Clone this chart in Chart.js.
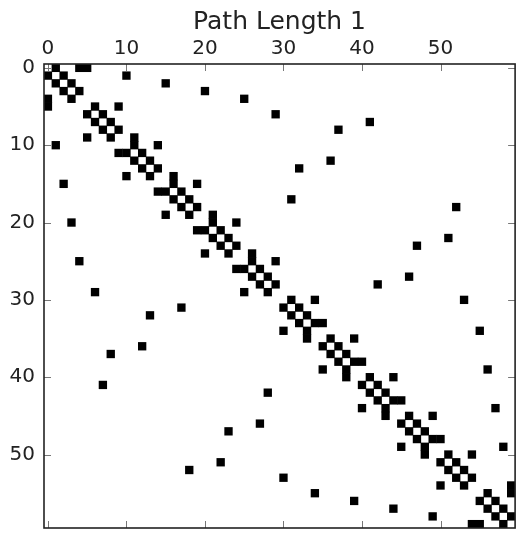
<!DOCTYPE html>
<html>
<head>
<meta charset="utf-8">
<title>Path Length 1</title>
<script src="https://cdn.jsdelivr.net/npm/chart.js@4"></script>
<style>
  html, body { margin: 0; padding: 0; overflow: hidden; background: #fff; }
  canvas { display: block; }
</style>
</head>
<body>
<canvas id="spy" width="521" height="541"></canvas>
<script>
// ══════════════════════════════════════════
// Data: nonzero columns of each row (60x60 adjacency matrix)
// ══════════════════════════════════════════
var chartTitle = 'Path Length 1';
var matrixSize = 60;
var tickValues = [0, 10, 20, 30, 40, 50];
var rowNeighbors = [
  [1, 4, 5],    [0, 2, 10],   [1, 3, 15],   [2, 4, 20],   [0, 3, 25],
  [0, 6, 9],    [5, 7, 29],   [6, 8, 41],   [7, 9, 37],   [5, 8, 11],
  [1, 11, 14],  [9, 10, 12],  [11, 13, 36], [12, 14, 32], [10, 13, 16],
  [2, 16, 19],  [14, 15, 17], [16, 18, 31], [17, 19, 52], [15, 18, 21],
  [3, 21, 24],  [19, 20, 22], [21, 23, 51], [22, 24, 47], [20, 23, 26],
  [4, 26, 29],  [24, 25, 27], [26, 28, 46], [27, 29, 42], [6, 25, 28],
  [31, 34, 53], [17, 30, 32], [13, 31, 33], [32, 34, 35], [30, 33, 55],
  [33, 36, 39], [12, 35, 37], [8, 36, 38],  [37, 39, 40], [35, 38, 56],
  [38, 41, 44], [7, 40, 42],  [28, 41, 43], [42, 44, 45], [40, 43, 57],
  [43, 46, 49], [27, 45, 47], [23, 46, 48], [47, 49, 50], [45, 48, 58],
  [48, 51, 54], [22, 50, 52], [18, 51, 53], [30, 52, 54], [50, 53, 59],
  [34, 56, 59], [39, 55, 57], [44, 56, 58], [49, 57, 59], [54, 55, 58],
];

var points = [];
rowNeighbors.forEach(function (cols, row) {
  cols.forEach(function (col) { points.push({ x: col, y: row }); });
});

var textColor = '#222';
var fontFamily = "'DejaVu Sans', sans-serif";

// frame + inward tick marks on all four sides (matplotlib spy look)
var framePlugin = {
  id: 'frame',
  afterLayout: function (chart) {
    // center the title over the plot box, not the whole canvas
    var t = chart.titleBlock;
    if (t) { t.left = chart.chartArea.left; t.right = chart.chartArea.right; }
  },
  afterDatasetsDraw: function (chart) {
    var a = chart.chartArea, ctx = chart.ctx;
    var xs = chart.scales.x, ys = chart.scales.y;
    ctx.save();
    ctx.strokeStyle = '#777';
    ctx.lineWidth = 1;
    tickValues.forEach(function (v) {
      var px = Math.round(xs.getPixelForValue(v)) + 0.5;
      var py = Math.round(ys.getPixelForValue(v)) + 0.5;
      ctx.beginPath();
      ctx.moveTo(px, a.top); ctx.lineTo(px, a.top + 7);
      ctx.moveTo(px, a.bottom); ctx.lineTo(px, a.bottom - 7);
      ctx.moveTo(a.left, py); ctx.lineTo(a.left + 7, py);
      ctx.moveTo(a.right, py); ctx.lineTo(a.right - 7, py);
      ctx.stroke();
    });
    ctx.strokeStyle = '#222';
    ctx.lineWidth = 1.6;
    ctx.strokeRect(a.left, a.top, a.right - a.left, a.bottom - a.top);
    ctx.restore();
  },
};

function setTicks(scale) {
  scale.ticks = tickValues.map(function (v) { return { value: v }; });
}

new Chart(document.getElementById('spy'), {
  type: 'scatter',
  data: {
    datasets: [{
      data: points,
      pointStyle: 'rect',
      pointRadius: 5.9,
      pointBorderWidth: 0,
      pointBackgroundColor: '#000',
    }],
  },
  options: {
    responsive: false,
    animation: false,
    events: [],
    layout: { padding: { left: 0, right: 1, top: 0, bottom: 1 } },
    plugins: {
      legend: { display: false },
      tooltip: { enabled: false },
      title: {
        display: true, text: chartTitle, color: textColor,
        font: { family: fontFamily, size: 25, weight: 'normal' },
        padding: { top: 7, bottom: 0 },
      },
    },
    scales: {
      x: {
        type: 'linear', position: 'top',
        min: -0.5, max: matrixSize - 0.5,
        afterBuildTicks: setTicks,
        afterFit: function (s) { s.height = 27; },
        grid: { display: false }, border: { display: false },
        ticks: { color: textColor, padding: -5, maxRotation: 0, font: { family: fontFamily, size: 20 } },
      },
      y: {
        type: 'linear', reverse: true,
        min: -0.5, max: matrixSize - 0.5,
        afterBuildTicks: setTicks,
        afterFit: function (s) { s.width = 44; },
        grid: { display: false }, border: { display: false },
        ticks: { color: textColor, padding: 1, font: { family: fontFamily, size: 20 } },
      },
    },
  },
  plugins: [framePlugin],
});
</script>
</body>
</html>
